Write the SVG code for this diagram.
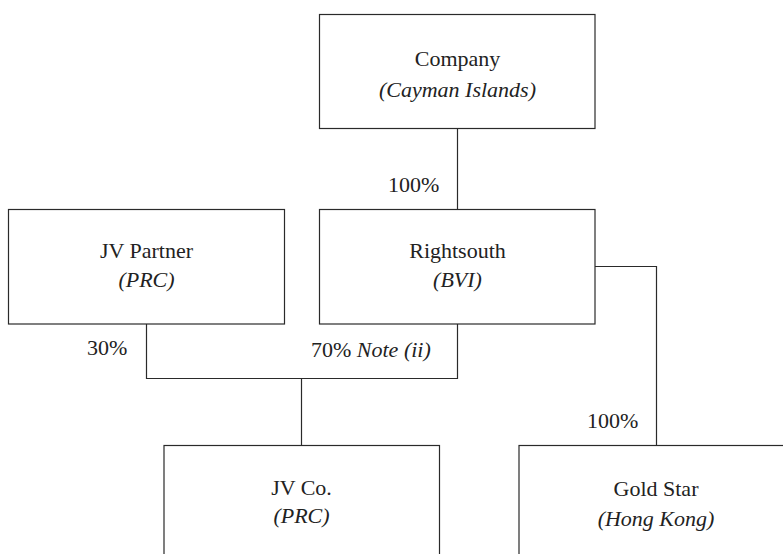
<svg xmlns="http://www.w3.org/2000/svg" width="783" height="554" viewBox="0 0 783 554">
<style>
.box{fill:#fff;stroke:#2a2a2a;stroke-width:1.2}
.ln{fill:none;stroke:#2a2a2a;stroke-width:1.2}
</style>
<rect width="783" height="554" fill="#fff"/>
<g id="connectors">
<path class="ln" d="M457.5,128.5V209.5"/>
<path class="ln" d="M146.5,324V378.5H457.5V324"/>
<path class="ln" d="M301.5,378.5V445.5"/>
<path class="ln" d="M595,266.5H656.5V445.5"/>
</g>
<g id="labels">
<text style="font-family:'Liberation Serif',serif;font-size:22px;fill:#222" x="388" y="192">100%</text>
<text style="font-family:'Liberation Serif',serif;font-size:22px;fill:#222" x="87" y="355">30%</text>
<text style="font-family:'Liberation Serif',serif;font-size:22px;fill:#222" x="311" y="357">70% <tspan style="font-style:italic">Note (ii)</tspan></text>
<text style="font-family:'Liberation Serif',serif;font-size:22px;fill:#222" x="587" y="428">100%</text>
</g>
<g id="company">
<rect class="box" x="319.5" y="14.5" width="275.5" height="114"/>
<text style="font-family:'Liberation Serif',serif;font-size:22px;fill:#222;text-anchor:middle" x="457.5" y="66">Company</text>
<text style="font-family:'Liberation Serif',serif;font-size:22px;fill:#222;text-anchor:middle;font-style:italic" x="457.5" y="97">(Cayman Islands)</text>
</g>
<g id="jvpartner">
<rect class="box" x="8.5" y="209.5" width="276" height="114.5"/>
<text style="font-family:'Liberation Serif',serif;font-size:22px;fill:#222;text-anchor:middle" x="146.5" y="258">JV Partner</text>
<text style="font-family:'Liberation Serif',serif;font-size:22px;fill:#222;text-anchor:middle;font-style:italic" x="146.5" y="287">(PRC)</text>
</g>
<g id="rightsouth">
<rect class="box" x="319.5" y="209.5" width="275.5" height="114.5"/>
<text style="font-family:'Liberation Serif',serif;font-size:22px;fill:#222;text-anchor:middle" x="457.5" y="258">Rightsouth</text>
<text style="font-family:'Liberation Serif',serif;font-size:22px;fill:#222;text-anchor:middle;font-style:italic" x="457.5" y="287">(BVI)</text>
</g>
<g id="jvco">
<rect class="box" x="164" y="445.5" width="275.5" height="120"/>
<text style="font-family:'Liberation Serif',serif;font-size:22px;fill:#222;text-anchor:middle" x="301.5" y="495">JV Co.</text>
<text style="font-family:'Liberation Serif',serif;font-size:22px;fill:#222;text-anchor:middle;font-style:italic" x="301.5" y="523">(PRC)</text>
</g>
<g id="goldstar">
<rect class="box" x="519" y="445.5" width="276" height="120"/>
<text style="font-family:'Liberation Serif',serif;font-size:22px;fill:#222;text-anchor:middle" x="656" y="496">Gold Star</text>
<text style="font-family:'Liberation Serif',serif;font-size:22px;fill:#222;text-anchor:middle;font-style:italic" x="656" y="526">(Hong Kong)</text>
</g>
</svg>
